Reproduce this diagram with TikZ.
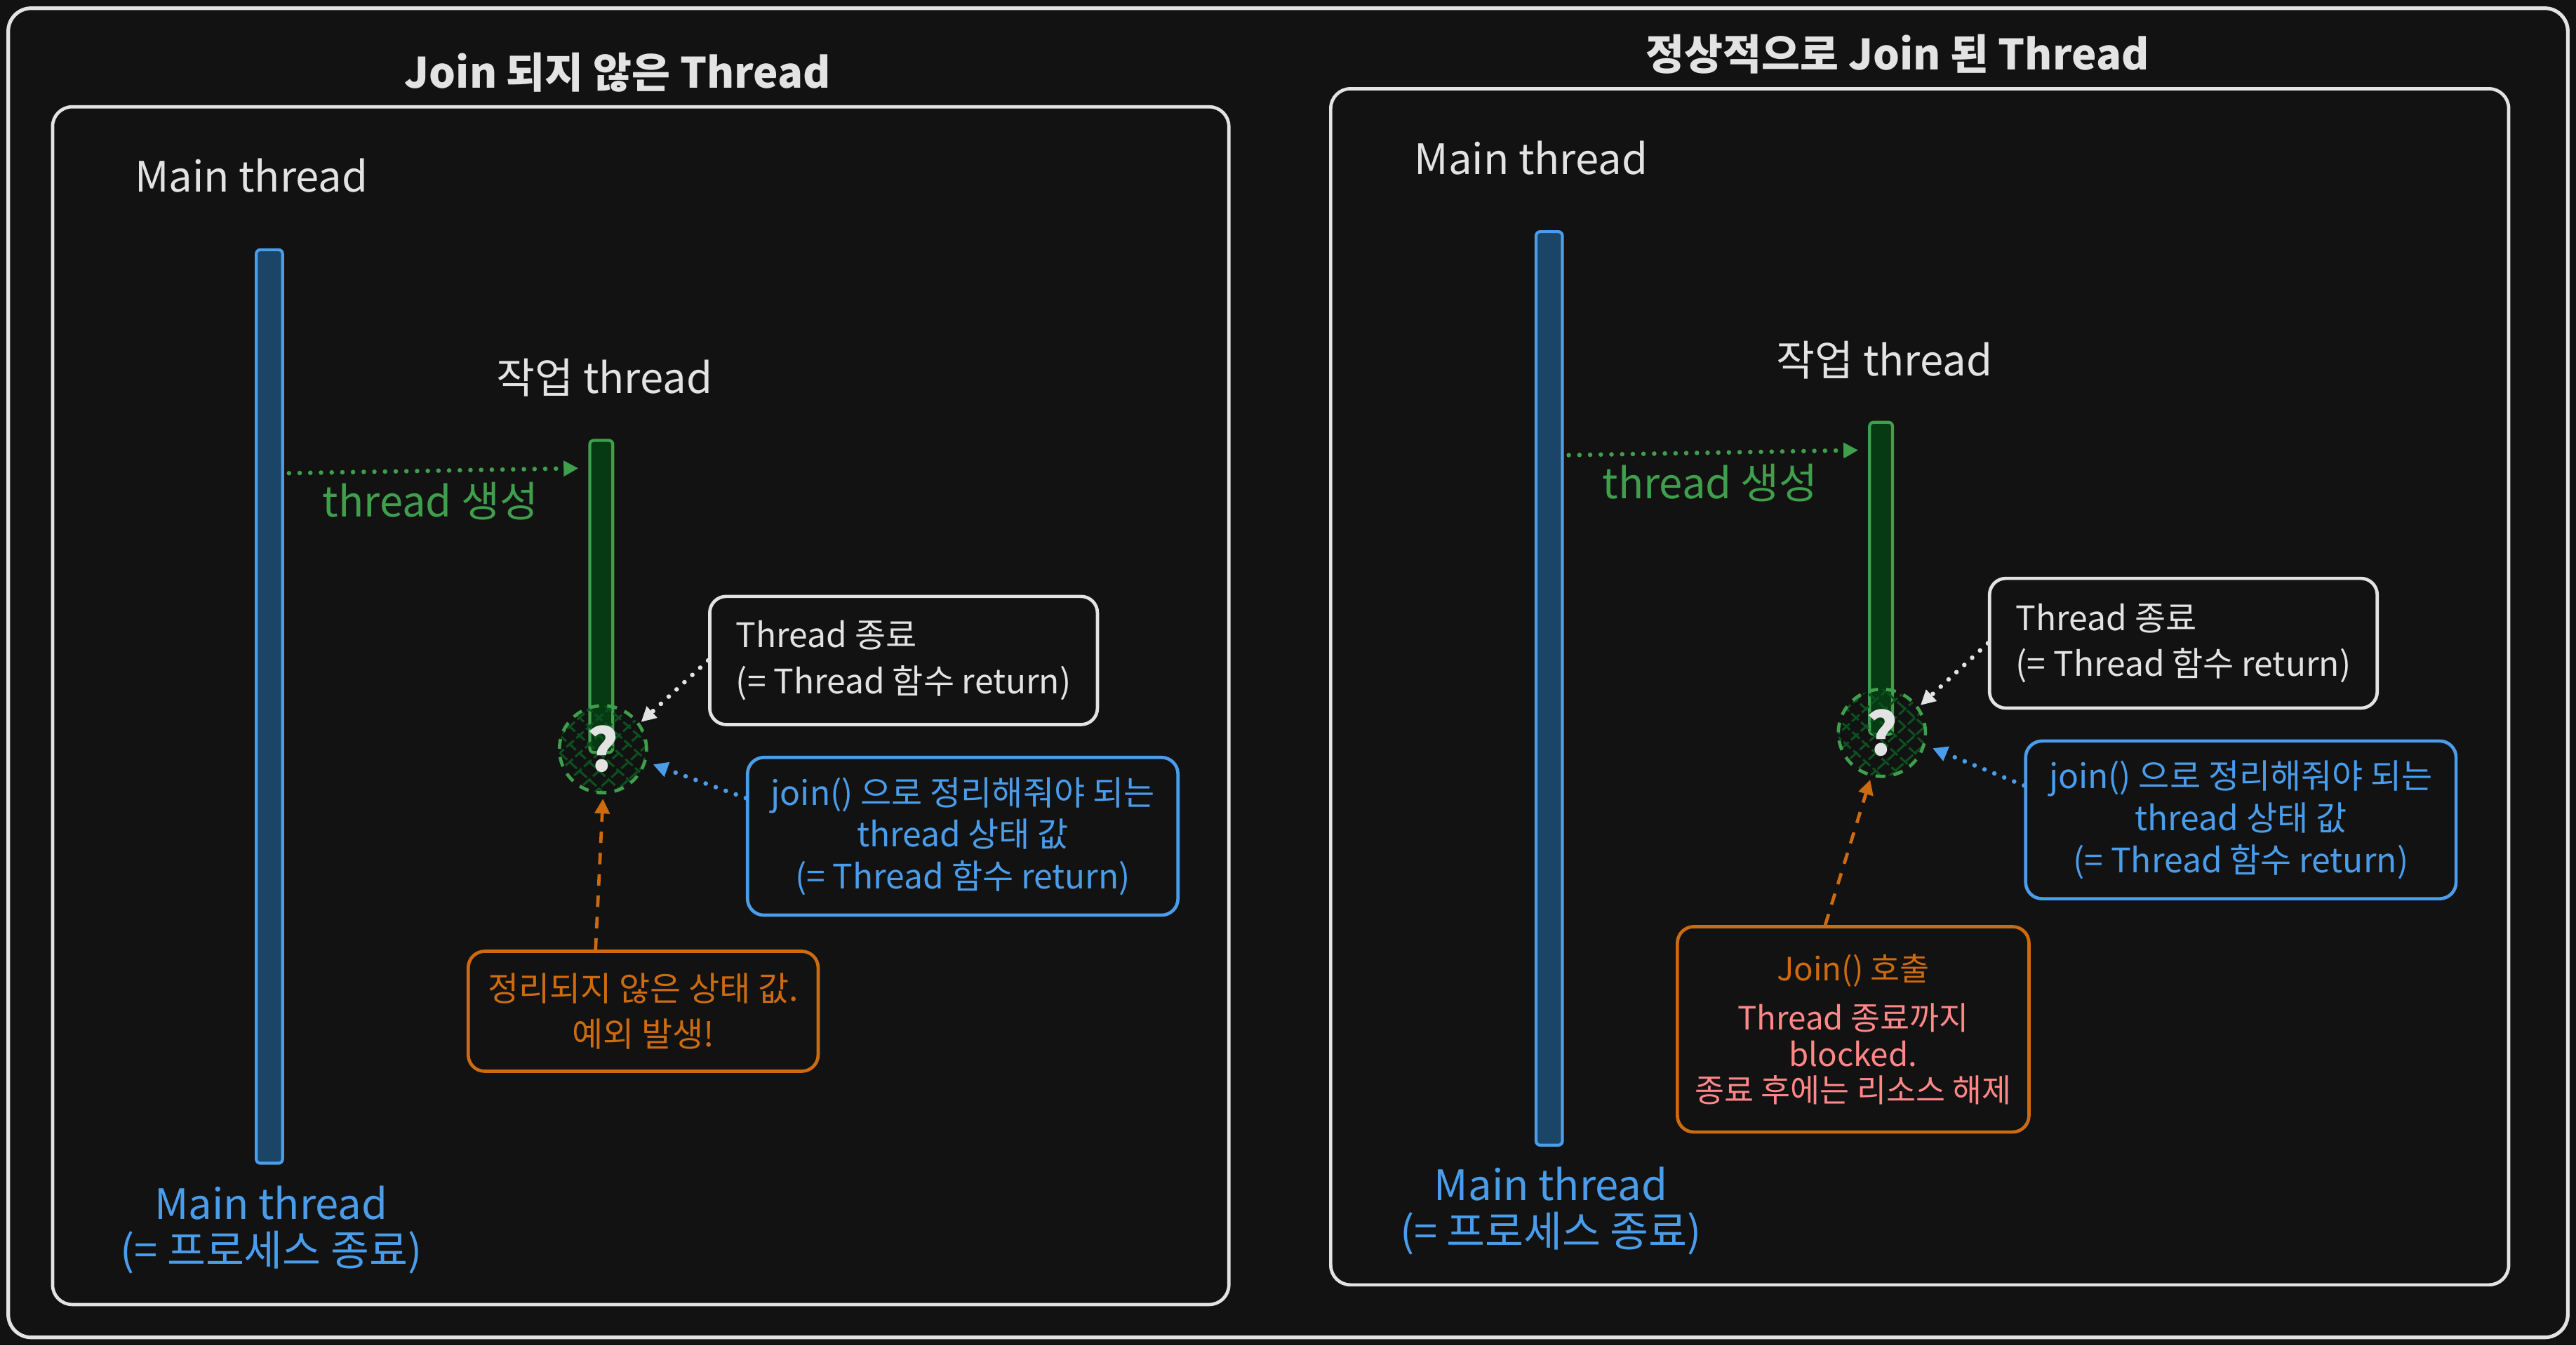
\documentclass[tikz,border=0pt]{standalone}
\usepackage{fontspec}
\setmainfont{Noto Sans CJK KR}
\usetikzlibrary{arrows.meta,patterns.meta}
\definecolor{bg}{HTML}{121212}
\definecolor{fg}{HTML}{E3E3E3}
\definecolor{bluec}{HTML}{4A9DEB}
\definecolor{bluefill}{HTML}{1A4567}
\definecolor{greenc}{HTML}{3F9F4C}
\definecolor{greenfill}{HTML}{063A12}
\definecolor{hatchc}{HTML}{0D5020}
\definecolor{orangec}{HTML}{CC6B10}
\definecolor{salmon}{HTML}{FF8787}
\begin{document}
\begin{tikzpicture}[x=1pt,y=-1pt,
  framebox/.style={draw=fg, line width=2.2pt, rounded corners=14pt, inner sep=0pt},
  panelbox/.style={draw=fg, line width=2pt, rounded corners=12pt, inner sep=0pt},
  bluebar/.style={draw=bluec, fill=bluefill, line width=1.8pt, rounded corners=2.5pt, inner sep=0pt, minimum width=16pt},
  greenbar/.style={draw=greenc, fill=greenfill, line width=1.8pt, rounded corners=2.5pt, inner sep=0pt, minimum width=14pt},
  qcircle/.style={circle, minimum size=53pt, inner sep=0pt, draw=greenc, line width=2pt, dash pattern=on 6pt off 5pt,
     preaction={pattern={Lines[angle=42,distance=8pt,line width=1.3pt]}, pattern color=hatchc},
     pattern={Lines[angle=-42,distance=8pt,line width=1.3pt]}, pattern color=hatchc,
     text=fg, font=\fontsize{36}{36}\selectfont\bfseries},
  notebox/.style={draw=#1, line width=2pt, rounded corners=10pt, inner sep=0pt, text=#1},
  titletxt/.style={text=fg, font=\fontsize{25.5}{29}\selectfont\bfseries},
  lbl/.style={text=fg, font=\fontsize{25.5}{29}\selectfont},
  boxtxt/.style={font=\fontsize{20.5}{28}\selectfont},
  tip/.style={-{Triangle[length=9pt,width=9pt]}},
  dotline/.style={tip, line width=2.8pt, line cap=round, dash pattern=on 0pt off 6.5pt},
  dashline/.style={tip, line width=2pt, dash pattern=on 7pt off 6pt}
]
\fill[bg] (0,0) rectangle (1568,819);
\useasboundingbox (0,0) rectangle (1568,819);

% outer frame and panels
\node[framebox, minimum width=1558pt, minimum height=809pt] (frame) at (784,409.5) {};
\node[panelbox, minimum width=716pt, minimum height=729pt] (panelL) at (390,429.5) {};
\node[panelbox, minimum width=717pt, minimum height=728pt] (panelR) at (1168.5,418) {};

% titles
\node[titletxt] (titleL) at (376,44) {Join 되지 않은 Thread};
\node[titletxt] (titleR) at (1155,33) {정상적으로 Join 된 Thread};

% ================= LEFT =================
\node[lbl] (mainL) at (153,107) {Main thread};
\node[lbl] (workL) at (368,230) {작업 thread};
\node[bluebar, minimum height=556pt] (barL) at (164,430) {};
\node[greenbar, minimum height=190pt] (gbarL) at (366,363) {};
\node[qcircle] (circL) at (367,456) {?};
\node[lbl, text=greenc] (genL) at (262,305) {thread 생성};
\node[lbl, text=bluec, align=center, font=\fontsize{25.5}{28}\selectfont] (endL) at (165,748.5) {Main thread\\(= 프로세스 종료)};

\node[notebox=fg, boxtxt, align=left, minimum width=236pt, minimum height=78pt] (wboxL) at (550,402)
  {Thread 종료\\(= Thread 함수 return)};
\node[notebox=bluec, boxtxt, font=\fontsize{20.5}{25.5}\selectfont, align=center, minimum width=262pt, minimum height=96pt] (bboxL) at (586,509)
  {join() 으로 정리해줘야 되는\\thread 상태 값\\(= Thread 함수 return)};
\node[notebox=orangec, boxtxt, align=center, minimum width=213pt, minimum height=73pt] (oboxL) at (391.5,615.5)
  {정리되지 않은 상태 값.\\예외 발생!};

\draw[dotline, greenc] ([xshift=3pt,yshift=142pt]barL.east) -- ([xshift=-6pt,yshift=78pt]gbarL.west);
\draw[dotline, fg] ([yshift=0pt]wboxL.west) -- ([shift={(1pt,1pt)}]circL.35);
\draw[dotline, bluec] (bboxL.170) -- ([shift={(5pt,0pt)}]circL.-20);
\draw[dashline, orangec] ([xshift=-29pt]oboxL.north) -- ([yshift=-3pt]circL.south);

% ================= RIGHT =================
\node[lbl] (mainR) at (932,96) {Main thread};
\node[lbl] (workR) at (1147,219) {작업 thread};
\node[bluebar, minimum height=556pt] (barR) at (943,419) {};
\node[greenbar, minimum height=190pt] (gbarR) at (1145,352) {};
\node[qcircle] (circR) at (1145.5,446) {?};
\node[lbl, text=greenc] (genR) at (1041,294) {thread 생성};
\node[lbl, text=bluec, align=center, font=\fontsize{25.5}{28}\selectfont] (endR) at (944,737) {Main thread\\(= 프로세스 종료)};

\node[notebox=fg, boxtxt, align=left, minimum width=236pt, minimum height=79pt] (wboxR) at (1329,391.5)
  {Thread 종료\\(= Thread 함수 return)};
\node[notebox=bluec, boxtxt, font=\fontsize{20.5}{25.5}\selectfont, align=center, minimum width=262pt, minimum height=96pt] (bboxR) at (1364,499)
  {join() 으로 정리해줘야 되는\\thread 상태 값\\(= Thread 함수 return)};
\node[notebox=orangec, boxtxt, font=\fontsize{19.5}{22}\selectfont, align=center, minimum width=214pt, minimum height=125pt] (oboxR) at (1128,626.5)
  {Join() 호출\\[8pt]\textcolor{salmon}{Thread 종료까지}\\\textcolor{salmon}{blocked.}\\\textcolor{salmon}{종료 후에는 리소스 해제}};

\draw[dotline, greenc] ([xshift=3pt,yshift=142pt]barR.east) -- ([xshift=-6pt,yshift=78pt]gbarR.west);
\draw[dotline, fg] (wboxR.west) -- ([shift={(1pt,1pt)}]circR.35);
\draw[dotline, bluec] (bboxR.171) -- ([shift={(5pt,0pt)}]circR.-20);
\draw[dashline, orangec] ([xshift=-17pt]oboxR.north) -- ([yshift=-2pt]circR.-105);
\end{tikzpicture}
\end{document}
